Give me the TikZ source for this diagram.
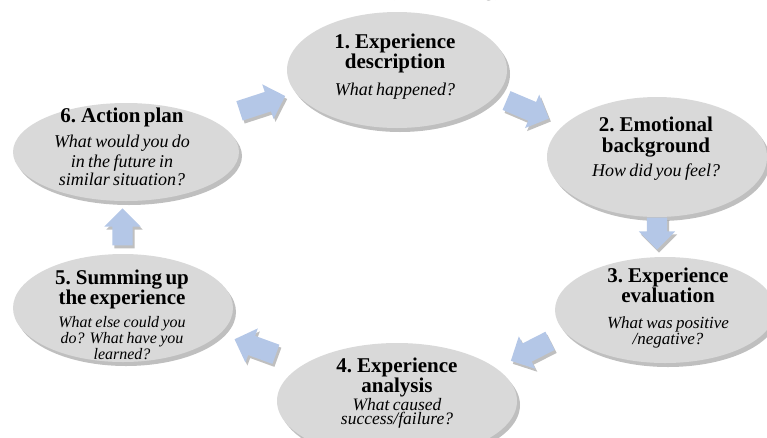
\documentclass[tikz,border=0pt]{standalone}
\usepackage{fontspec}
\setmainfont{Liberation Serif}
\usepackage{xcolor}
\usetikzlibrary{shapes.geometric, shapes.arrows, shadows, calc}

\definecolor{stagegray}{RGB}{217,217,217}
\definecolor{flowblue}{RGB}{180,199,231}

\begin{document}
\begin{tikzpicture}[
    x=1pt, y=-1pt,
    stage/.style={ellipse, fill=stagegray, inner sep=0pt,
        drop shadow={shadow xshift=3pt, shadow yshift=-4pt, opacity=0.25, fill=black}},
    stagetext/.style={anchor=north, align=center, inner sep=0pt, text width=200pt},
    flow/.style={single arrow, fill=flowblue, inner sep=0pt, text height=10pt, text depth=10pt,
        single arrow head extend=8pt, minimum height=44pt,
        drop shadow={shadow xshift=2pt, shadow yshift=-3pt, opacity=0.25, fill=black}}
]
\useasboundingbox (0,0) rectangle (767,437);
\clip (0,0) rectangle (767,437);

% Title (cut off at the top)
\node[font=\fontsize{24}{26}\selectfont, anchor=base] (head) at (445,-5) {(Reflecting)};

% Stages
\node[stage, minimum width=220pt, minimum height=116pt] (desc) at (397,70) {};
\node[stage, minimum width=220pt, minimum height=120pt] (emot) at (657,157) {};
\node[stage, minimum width=220pt, minimum height=106pt] (eval) at (665,310) {};
\node[stage, minimum width=240pt, minimum height=116pt] (anal) at (397,401) {};
\node[stage, minimum width=220pt, minimum height=108pt] (summ) at (123,308) {};
\node[stage, minimum width=226pt, minimum height=98pt] (plan) at (126,152) {};

% Texts
\node[stagetext] (desc-t) at (395,34) {\fontsize{21}{20}\selectfont\bfseries 1. Experience\\description\par
    \vspace{9pt}\fontsize{18}{19}\selectfont\mdseries\itshape What happened?};
\node[stagetext] (emot-t) at (656,116.5) {\fontsize{21}{21}\selectfont\bfseries 2. Emotional\\background\par
    \vspace{6pt}\fontsize{18}{19}\selectfont\mdseries\itshape How did you feel?};
\node[stagetext] (eval-t) at (668,268) {\fontsize{21}{20}\selectfont\bfseries 3. Experience\\evaluation\par
    \vspace{9pt}\fontsize{17}{17}\selectfont\mdseries\itshape What was positive\\/negative?};
\node[stagetext] (anal-t) at (397,358) {\fontsize{21}{19}\selectfont\bfseries 4. Experience\\analysis\par
    \vspace{0pt}\fontsize{17.5}{18}\selectfont\mdseries\itshape What caused\\success/failure?};
\node[stagetext] (summ-t) at (122,270) {\fontsize{21}{19}\selectfont\bfseries 5. Summing up\\the experience\par
    \vspace{6pt}\fontsize{16}{16.5}\selectfont\mdseries\itshape What else could you\\do? What have you\\learned?};
\node[stagetext] (plan-t) at (122,108) {\fontsize{21}{20}\selectfont\bfseries 6. Action plan\par
    \vspace{5pt}\fontsize{18}{20}\selectfont\mdseries\itshape What would you do\\in the future in\\similar situation?};

% Arrows
\node[flow, rotate=18, minimum height=48pt] (a61) at ($(plan)!0.5!(desc)+(-4,-6)$) {};
\node[flow, rotate=-23, minimum height=46pt] (a12) at ($(desc)!0.5!(emot)+(-4,-6)$) {};
\node[flow, rotate=-90, minimum height=32pt] (a23) at ($(emot)!0.5!(eval)+(-4,-5)$) {};
\node[flow, rotate=207] (a34) at ($(eval)!0.5!(anal)+(4,-7)$) {};
\node[flow, rotate=160] (a45) at ($(anal)!0.5!(summ)+(0,-6)$) {};
\node[flow, rotate=90, minimum height=37pt] (a56) at ($(summ)!0.5!(plan)+(-2,2)$) {};

\end{tikzpicture}
\end{document}
